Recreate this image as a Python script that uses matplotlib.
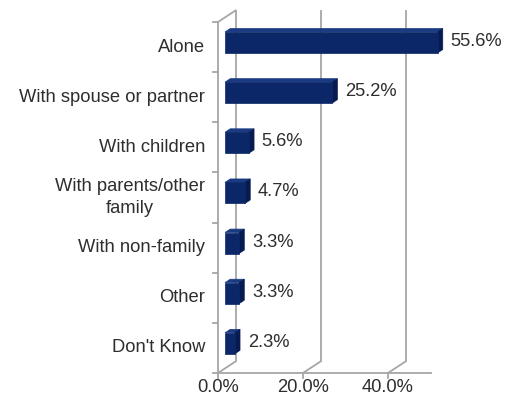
#!/usr/bin/env python3

import numpy as np
from matplotlib import pyplot as plt
from matplotlib.patches import Polygon

plt.rcParams['font.family'] = ['Liberation Sans', 'DejaVu Sans']

categories = ['Alone', 'With spouse or partner', 'With children',
              'With parents/other\nfamily', 'With non-family', 'Other', "Don't Know"]
values = [55.6, 25.2, 5.6, 4.7, 3.3, 3.3, 2.3]
value_labels = ['55.6%', '25.2%', '5.6%', '4.7%', '3.3%', '3.3%', '2.3%']
x_ticks = [0, 20, 40]
x_tick_labels = ['0.0%', '20.0%', '40.0%']
x_max = 50

# pixel scale of the chart box
PX_X = 4.25    # px per percent
PX_Y = 50.14   # px per category
DX = 17.5 / PX_X   # depth offset of the back wall
DY = 11.5 / PX_Y

GRID = '#a6a6a6'
TEXT = '#2e2e2e'
FRONT = '#0b2768'
TOP = '#1a3a82'
SIDE = '#071b50'
FS = 13.2


def proj(x, y, d):
    # push a point back into the box by depth fraction d
    return x + d * DX, y - d * DY


def main():
    fig = plt.figure(figsize=(5.19, 4.07), dpi=100)
    ax = fig.add_axes([0, 0, 1, 1])
    ax.set_xlim(-218 / PX_X, (519 - 218) / PX_X)
    ax.set_ylim((407 - 22) / PX_Y, -22 / PX_Y)
    ax.axis('off')

    n = len(categories)
    lw = 1.3

    # gridlines: floor diagonal + back vertical
    for v, lab in zip(x_ticks, x_tick_labels):
        bx, by = proj(v, n, 1)
        tx, ty = proj(v, 0, 1)
        ax.plot([v, bx], [n, by], color=GRID, lw=lw, zorder=1)
        ax.plot([bx, tx], [by, ty], color=GRID, lw=lw, zorder=1)
        ax.plot([v, v], [n, n + 5 / PX_Y], color=GRID, lw=lw, zorder=1)
        ax.text(v, n + 15 / PX_Y, lab, ha='center', va='center', fontsize=FS, color=TEXT)

    # left wall
    tx, ty = proj(0, 0, 1)
    ax.plot([0, 0], [0, n], color=GRID, lw=lw, zorder=1)
    ax.plot([0, tx], [0, ty], color=GRID, lw=lw, zorder=1)
    # floor front edge
    ax.plot([0, x_max], [n, n], color=GRID, lw=lw, zorder=1)
    for k in range(n + 1):
        ax.plot([0, -5 / PX_X], [k, k], color=GRID, lw=lw, zorder=1)

    # bars
    f0, bd = 0.4, 0.3
    h = 10.5 / PX_Y
    for i, v in enumerate(values):
        c = i + 0.5
        x0, yt = proj(0, c - h, f0)
        x1, yb = proj(min(v, x_max), c + h, f0)
        ox, oy = bd * DX, bd * DY
        ax.add_patch(Polygon([(x0, yt), (x1, yt), (x1 + ox, yt - oy), (x0 + ox, yt - oy)],
                             closed=True, fc=TOP, ec=TOP, lw=0.5, zorder=3))
        ax.add_patch(Polygon([(x1, yt), (x1, yb), (x1 + ox, yb - oy), (x1 + ox, yt - oy)],
                             closed=True, fc=SIDE, ec=SIDE, lw=0.5, zorder=3))
        ax.add_patch(Polygon([(x0, yt), (x1, yt), (x1, yb), (x0, yb)],
                             closed=True, fc=FRONT, ec=FRONT, lw=0.5, zorder=4))
        ax.text(x1 + 13 / PX_X, c - f0 * DY - 1 / PX_Y, value_labels[i], ha='left', va='center',
                fontsize=FS, color=TEXT, zorder=5)
        ax.text(-13 / PX_X, c, categories[i], ha='right', va='center', multialignment='center',
                fontsize=FS, color=TEXT, linespacing=1.4)

    plt.savefig('out.png', dpi=100)
    plt.clf()


if __name__ == '__main__':
    main()
